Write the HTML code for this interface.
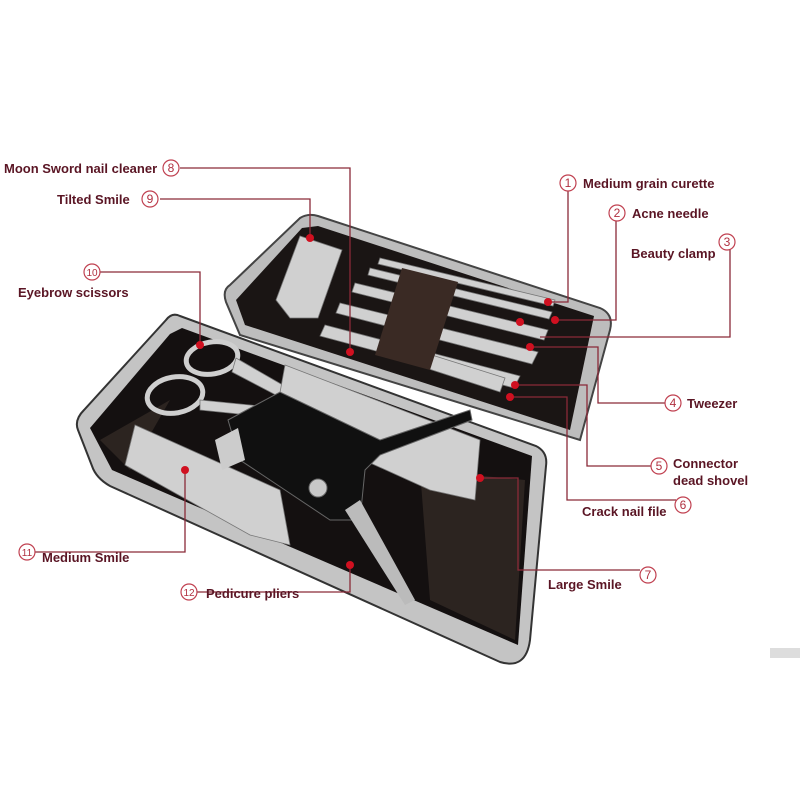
<!DOCTYPE html>
<html><head><style>
html,body{margin:0;padding:0;background:#fff;}
svg{display:block;}
text{font-family:"Liberation Sans",sans-serif;font-weight:bold;font-size:13px;fill:#5a1524;}
.n{font-weight:normal;font-size:12px;fill:#b03040;text-anchor:middle;}
.c{fill:#fff;stroke:#c04050;stroke-width:1.2;}
.l{fill:none;stroke:#8a2a38;stroke-width:1.3;}
.d{fill:#d01020;}
.m{fill:#d0d0d0;stroke:#777;stroke-width:0.8;}
</style></head><body>
<svg width="800" height="800" viewBox="0 0 800 800">
<rect width="800" height="800" fill="#fff"/>
<!-- upper lid -->
<path d="M318,216 L600,308 Q614,314 610,330 L580,440 L240,335 L226,302 Q222,290 230,285 L300,218 Q308,213 318,216Z" fill="#bdbdbd" stroke="#444" stroke-width="2"/>
<path d="M318,226 L594,316 L570,430 L245,325 L236,300 L302,228Z" fill="#1a1514"/>
<!-- lid tools -->
<polygon class="m" points="300,236 342,250 318,318 290,318 276,300"/>
<polygon class="m" points="380,258 555,300 553,306 378,264"/>
<polygon class="m" points="370,268 552,312 549,319 368,275"/>
<polygon class="m" points="355,283 548,330 544,340 352,292"/>
<polygon class="m" points="340,303 538,352 532,364 336,313"/>
<polygon class="m" points="325,325 520,376 514,388 320,336"/>
<polygon class="m" points="400,345 505,378 500,392 395,358"/>
<polygon points="402,268 458,282 430,370 375,355" fill="#3a2a24"/>
<!-- lower tray -->
<path d="M180,316 L536,446 Q548,452 546,466 L530,640 Q526,670 500,662 L110,486 Q96,478 92,466 L78,430 Q74,420 84,410 L166,320 Q172,312 180,316Z" fill="#c4c4c4" stroke="#333" stroke-width="2"/>
<path d="M182,328 L532,456 L518,645 L112,470 L90,428 L170,334Z" fill="#141010"/>
<path d="M420,470 L525,480 L515,640 L430,600Z" fill="#2c2420"/>
<path d="M100,440 L170,400 L130,470Z" fill="#2c2420"/>
<!-- scissors -->
<g fill="none" stroke="#cfcfcf" stroke-width="5">
<ellipse cx="212" cy="358" rx="26" ry="16" transform="rotate(-10 212 358)"/>
<ellipse cx="175" cy="395" rx="28" ry="18" transform="rotate(-10 175 395)"/>
</g>
<polygon class="m" points="236,358 300,395 295,405 232,372"/>
<polygon class="m" points="200,400 300,410 298,420 200,410"/>
<!-- large clipper -->
<polygon class="m" points="285,365 480,440 475,500 430,490 275,420"/>
<!-- medium clipper -->
<polygon class="m" points="135,425 280,490 290,545 250,535 125,465"/>
<!-- pliers -->
<polygon points="228,420 280,392 380,440 470,410 472,420 380,455 365,470 360,520 330,520 240,460" fill="#101010" stroke="#666"/>
<polygon points="360,500 415,600 405,605 345,510" fill="#bbb"/>
<circle cx="318" cy="488" r="9" fill="#c8c8c8" stroke="#666"/>
<polygon points="215,440 238,428 245,460 222,470" fill="#ccc"/>
<rect x="770" y="648" width="30" height="10" fill="#ddd"/>
<!-- leader lines -->
<path class="l" d="M180,168 H350 V352"/>
<path class="l" d="M160,199 H310 V238"/>
<path class="l" d="M100,272 H200 V345"/>
<path class="l" d="M568,190 V302 H548"/>
<path class="l" d="M616,220 V320 H555"/>
<path class="l" d="M730,249 V337 H540"/>
<path class="l" d="M665,403 H598 V347 H530"/>
<path class="l" d="M652,466 H587 V385 H515"/>
<path class="l" d="M676,500 H567 V397 H510"/>
<path class="l" d="M640,570 H518 V478 H480"/>
<path class="l" d="M34,552 H185 V470"/>
<path class="l" d="M196,592 H350 V565"/>
<g class="d">
<circle cx="350" cy="352" r="4"/><circle cx="310" cy="238" r="4"/><circle cx="200" cy="345" r="4"/>
<circle cx="548" cy="302" r="4"/><circle cx="555" cy="320" r="4"/><circle cx="520" cy="322" r="4"/>
<circle cx="530" cy="347" r="4"/><circle cx="515" cy="385" r="4"/><circle cx="510" cy="397" r="4"/>
<circle cx="480" cy="478" r="4"/><circle cx="185" cy="470" r="4"/><circle cx="350" cy="565" r="4"/>
</g>
<!-- labels -->
<text x="4" y="173">Moon Sword nail cleaner</text>
<circle class="c" cx="171" cy="168" r="8"/><text class="n" x="171" y="172">8</text>
<text x="57" y="204">Tilted Smile</text>
<circle class="c" cx="150" cy="199" r="8"/><text class="n" x="150" y="203">9</text>
<circle class="c" cx="92" cy="272" r="8"/><text class="n" x="92" y="276" style="font-size:10px">10</text>
<text x="18" y="297">Eyebrow scissors</text>
<circle class="c" cx="568" cy="183" r="8"/><text class="n" x="568" y="187">1</text>
<text x="583" y="188">Medium grain curette</text>
<circle class="c" cx="617" cy="213" r="8"/><text class="n" x="617" y="217">2</text>
<text x="632" y="218">Acne needle</text>
<text x="631" y="258">Beauty clamp</text>
<circle class="c" cx="727" cy="242" r="8"/><text class="n" x="727" y="246">3</text>
<circle class="c" cx="673" cy="403" r="8"/><text class="n" x="673" y="407">4</text>
<text x="687" y="408">Tweezer</text>
<circle class="c" cx="659" cy="466" r="8"/><text class="n" x="659" y="470">5</text>
<text x="673" y="468">Connector</text>
<text x="673" y="485">dead shovel</text>
<text x="582" y="516">Crack nail file</text>
<circle class="c" cx="683" cy="505" r="8"/><text class="n" x="683" y="509">6</text>
<text x="548" y="589">Large Smile</text>
<circle class="c" cx="648" cy="575" r="8"/><text class="n" x="648" y="579">7</text>
<circle class="c" cx="27" cy="552" r="8"/><text class="n" x="27" y="556" style="font-size:10px">11</text>
<text x="42" y="562">Medium Smile</text>
<circle class="c" cx="189" cy="592" r="8"/><text class="n" x="189" y="596" style="font-size:10px">12</text>
<text x="206" y="598">Pedicure pliers</text>
</svg>
</body></html>
